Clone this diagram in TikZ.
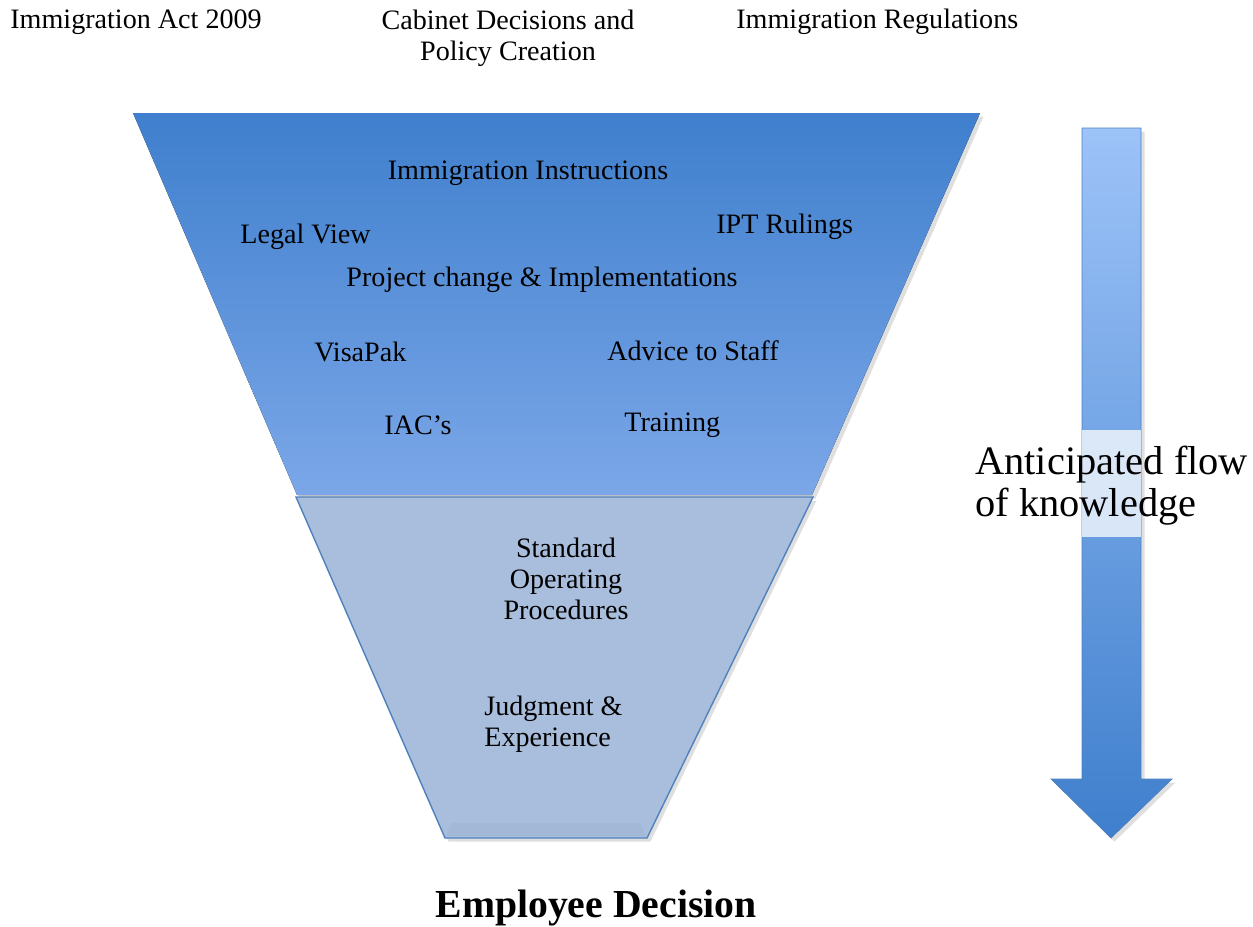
\documentclass[tikz,border=0pt]{standalone}
\usepackage{fontspec}
\setmainfont{Liberation Serif}
\usetikzlibrary{positioning,shadows}
\definecolor{topblue}{HTML}{3F7FCD}
\definecolor{midblue}{HTML}{7BA7E8}
\definecolor{greyblue}{HTML}{A9BEDC}
\definecolor{stripblue}{HTML}{A3B8D6}
\definecolor{edgeblue}{HTML}{4F81BD}
\definecolor{paleblue}{HTML}{9DC3F8}
\begin{document}
\begin{tikzpicture}[x=0.02cm,y=-0.02cm,
  lbl/.style={font=\fontsize{16}{17.6}\selectfont,align=center,inner sep=0pt},
  biglbl/.style={font=\fontsize{23}{23.9}\selectfont,align=left,inner sep=0pt},
  soft/.style={drop shadow={opacity=0.25,shadow xshift=2pt,shadow yshift=-2pt}}]
  \useasboundingbox (0,0) rectangle (1253,926);

  % funnel top part
  \fill[soft,top color=topblue,bottom color=midblue] (133,113) -- (980,113) -- (812,495) -- (297,495) -- cycle;
  % funnel bottom part
  \draw[soft,edgeblue,fill=greyblue,thick] (296,497) -- (813,497) -- (647,838) -- (445,838) -- cycle;
  \fill[stripblue] (452,823) -- (640,823) -- (646,836) -- (446,836) -- cycle;

  % flow arrow
  \draw[soft,edgeblue,top color=paleblue,bottom color=topblue] (1082,128) -- (1141,128) -- (1141,779) -- (1172,779) -- (1111,838) -- (1051,779) -- (1082,779) -- cycle;
  \fill[white,opacity=0.75] (1082,430) rectangle (1141,537);

  % sources above the funnel
  \node[lbl,anchor=west] (act) at (10,22) {Immigration Act 2009};
  \node[lbl] (cabinet) at (508,38) {Cabinet Decisions and\\Policy Creation};
  \node[lbl,anchor=west] (regs) at (736,22) {Immigration Regulations};

  % inside the funnel
  \node[lbl] (instr) at (528,173) {Immigration Instructions};
  \node[lbl,anchor=west] (legal) at (240,237) {Legal View};
  \node[lbl,anchor=west] (ipt) at (716,227) {IPT Rulings};
  \node[lbl] (project) at (542,280) {Project change \& Implementations};
  \node[lbl,anchor=west] (visapak) at (314,352) {VisaPak};
  \node[lbl,anchor=west] (advice) at (607,351) {Advice to Staff};
  \node[lbl,anchor=west] (iac) at (384,425) {IAC’s};
  \node[lbl,anchor=west] (training) at (624,425) {Training};
  \node[lbl] (sop) at (566,579) {Standard\\Operating\\Procedures};
  \node[lbl,align=left,anchor=west] (judge) at (484,724) {Judgment \&\\Experience};

  \node[biglbl,anchor=west] (flow) at (975,486) {Anticipated flow\\of knowledge};
  \node[biglbl,font=\fontsize{22.6}{23.9}\selectfont\bfseries] (decision) at (596,908) {Employee Decision};
\end{tikzpicture}
\end{document}
